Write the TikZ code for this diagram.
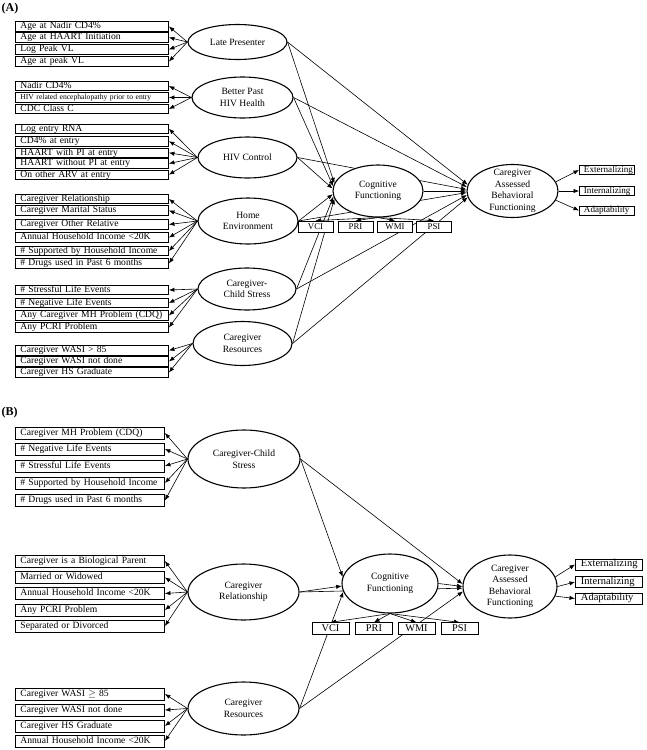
\documentclass[tikz,border=0pt]{standalone}
\usepackage{fontspec}
\setmainfont{Liberation Serif}
\usepackage{tikz}
\usetikzlibrary{shapes.geometric,arrows.meta,backgrounds}
\tikzset{
	every latent/.style={
		ellipse,
		draw,
		fill=white,
		line width=1.1pt,
		inner sep=0pt
	},
	item A/.style={
		rectangle, draw, fill=white, line width=0.9pt,
		anchor=west, align=left,
		inner xsep=5pt, inner ysep=0pt,
		text width=143pt, minimum height=9.5pt,
		text height=6.6pt, text depth=2pt
	},
	item B/.style={
		item A,
		inner xsep=5pt,
		text width=139pt, minimum height=12pt
	},
	subscale A/.style={
		rectangle, draw, fill=white, line width=0.8pt,
		inner sep=0pt, minimum width=35pt, minimum height=11pt,
		font=\fontsize{8.8}{10}\selectfont
	},
	subscale B/.style={
		subscale A,
		minimum width=37pt, minimum height=11.5pt,
		font=\fontsize{10.3}{12}\selectfont
	},
	outcome A/.style={
		item A,
		inner xsep=4.5pt, text width=46pt, minimum height=9pt,
		font=\fontsize{9.1}{10}\selectfont
	},
	outcome B/.style={
		item A,
		inner xsep=5.5pt, text width=56pt, minimum height=11pt,
		font=\fontsize{10.5}{12}\selectfont
	},
}

\begin{document}
\begin{tikzpicture}[x=1pt,y=-1pt,font=\fontsize{9.6}{11.5}\selectfont]
\tikzset{EdgeStyle/.style = {-{Latex[length=5.5pt,width=4.3pt]}, line width=0.6pt}}
\useasboundingbox (0,0) rectangle (646,750);

\node[anchor=west, inner sep=0pt, font=\fontsize{12}{14}\selectfont\bfseries] (panelA) at (1.5,9) {(A)};

\node[every latent, minimum width=99pt, minimum height=35pt, label={[align=center]center:Late Presenter}] (latePresenter) at (237.5,42) {};
	\node[item A] (ageNadir) at (15,26.5) {Age at Nadir CD4\%};
	\node[item A] (ageHaart) at (15,37.5) {Age at HAART Initiation};
	\node[item A] (logPeakVL) at (15,49.5) {Log Peak VL};
	\node[item A] (agePeakVL) at (15,61.5) {Age at peak VL};
\node[every latent, minimum width=101pt, minimum height=41pt, label={[align=center]center:Better Past\\HIV Health}] (betterPast) at (242.5,97.5) {};
	\node[item A] (nadirCD) at (15,86) {Nadir CD4\%};
	\node[item A, font=\fontsize{7.6}{9}\selectfont] (hivEnceph) at (15,97.5) {HIV related encephalopathy prior to entry};
	\node[item A] (cdcClassC) at (15,109) {CDC Class C};
\node[every latent, minimum width=99pt, minimum height=41pt, label={[align=center]center:HIV Control}] (hivControl) at (247.5,157.5) {};
	\node[item A] (logEntryRNA) at (15,128.7) {Log entry RNA};
	\node[item A] (cdEntry) at (15,141.2) {CD4\% at entry};
	\node[item A] (haartPI) at (15,152.8) {HAART with PI at entry};
	\node[item A] (haartNoPI) at (15,163.5) {HAART without PI at entry};
	\node[item A] (otherARV) at (15,174.7) {On other ARV at entry};
\node[every latent, minimum width=100pt, minimum height=46pt, label={[align=center]center:Home\\Environment}] (homeEnv) at (248,221) {};
	\node[item A] (cgRelation) at (15,199) {Caregiver Relationship};
	\node[item A] (cgMarital) at (15,210.5) {Caregiver Marital Status};
	\node[item A] (cgOtherRel) at (15,224.5) {Caregiver Other Relative};
	\node[item A] (incomeA) at (15,237.5) {Annual Household Income <20K};
	\node[item A] (supportedA) at (15,251) {\# Supported by Household Income};
	\node[item A] (drugsA) at (15,263.5) {\# Drugs used in Past 6 months};
\node[every latent, minimum width=98pt, minimum height=42pt, label={[align=center]center:Caregiver-\\Child Stress}] (cgStress) at (247,289) {};
	\node[item A] (stressfulA) at (15,290) {\# Stressful Life Events};
	\node[item A] (negativeA) at (15,303) {\# Negative Life Events};
	\node[item A] (mhProblemA) at (15,315.5) {Any Caregiver MH Problem (CDQ)};
	\node[item A] (pcriA) at (15,327.5) {Any PCRI Problem};
\node[every latent, minimum width=99pt, minimum height=44pt, label={[align=center]center:Caregiver\\Resources}] (cgResources) at (242.5,343.5) {};
	\node[item A] (wasiA) at (15,350.5) {Caregiver WASI > 85};
	\node[item A] (wasiNotDoneA) at (15,361.5) {Caregiver WASI not done};
	\node[item A] (hsGradA) at (15,372.5) {Caregiver HS Graduate};

\node[every latent, minimum width=90pt, minimum height=52pt, label={[align=center]center:Cognitive\\Functioning}] (cogFunc) at (378,191) {};
	\node[subscale A] (vci) at (315.5,226.5) {VCI};
	\node[subscale A] (pri) at (355.5,226.5) {PRI};
	\node[subscale A] (wmi) at (395,226.5) {WMI};
	\node[subscale A] (psi) at (434,226.5) {PSI};
\node[every latent, minimum width=91pt, minimum height=53pt, label={[align=center]center:Caregiver\\Assessed\\Behavioral\\Functioning}] (behavFunc) at (512.5,191) {};
	\node[outcome A] (externalA) at (579,170) {Externalizing};
	\node[outcome A] (internalA) at (579,191) {Internalizing};
	\node[outcome A] (adaptA) at (579,210.5) {Adaptability};

\node[anchor=west, inner sep=0pt, font=\fontsize{12}{14}\selectfont\bfseries] (panelB) at (1.5,412.5) {(B)};

\node[every latent, minimum width=112pt, minimum height=58pt, label={[align=center]center:Caregiver-Child\\Stress}] (cgStressB) at (244,459) {};
	\node[item B] (mhProblemB) at (15,433) {Caregiver MH Problem (CDQ)};
	\node[item B] (negativeB) at (15,449) {\# Negative Life Events};
	\node[item B] (stressfulB) at (15,466) {\# Stressful Life Events};
	\node[item B] (supportedB) at (15,483) {\# Supported by Household Income};
	\node[item B] (drugsB) at (15,500.5) {\# Drugs used in Past 6 months};
\node[every latent, minimum width=111pt, minimum height=56pt, label={[align=center]center:Caregiver\\Relationship}] (cgRelationB) at (243.5,592) {};
	\node[item B] (bioParent) at (15,561) {Caregiver is a Biological Parent};
	\node[item B] (marriedB) at (15,577.5) {Married or Widowed};
	\node[item B] (incomeB) at (15,593.5) {Annual Household Income <20K};
	\node[item B] (pcriB) at (15,610) {Any PCRI Problem};
	\node[item B] (separatedB) at (15,626) {Separated or Divorced};
\node[every latent, minimum width=111pt, minimum height=53pt, label={[align=center]center:Caregiver\\Resources}] (cgResourcesB) at (243.5,708.5) {};
	\node[item B] (wasiB) at (15,694) {Caregiver WASI $\geq$ 85};
	\node[item B] (wasiNotDoneB) at (15,710) {Caregiver WASI not done};
	\node[item B] (hsGradB) at (15,726) {Caregiver HS Graduate};
	\node[item B] (incomeResB) at (15,741) {Annual Household Income <20K};

\node[every latent, minimum width=96pt, minimum height=59pt, label={[align=center]center:Cognitive\\Functioning}] (cogFuncB) at (390,583.5) {};
	\node[subscale B] (vciB) at (330.5,628.5) {VCI};
	\node[subscale B] (priB) at (374,628.5) {PRI};
	\node[subscale B] (wmiB) at (416.5,628.5) {WMI};
	\node[subscale B] (psiB) at (459.5,628.5) {PSI};
\node[every latent, minimum width=94pt, minimum height=63pt, label={[align=center]center:Caregiver\\Assessed\\Behavioral\\Functioning}] (behavFuncB) at (510,586.5) {};
	\node[outcome B] (externalB) at (575,564.5) {Externalizing};
	\node[outcome B] (internalB) at (575,582) {Internalizing};
	\node[outcome B] (adaptB) at (575,598.5) {Adaptability};

\begin{pgfonlayer}{background}
\draw[EdgeStyle] (latePresenter.west) -- (ageNadir.east);
\draw[EdgeStyle] (latePresenter.west) -- (ageHaart.east);
\draw[EdgeStyle] (latePresenter.west) -- (logPeakVL.east);
\draw[EdgeStyle] (latePresenter.west) -- (agePeakVL.east);
\draw[EdgeStyle] (betterPast.west) -- (nadirCD.east);
\draw[EdgeStyle] (betterPast.west) -- (hivEnceph.east);
\draw[EdgeStyle] (betterPast.west) -- (cdcClassC.east);
\draw[EdgeStyle] (hivControl.west) -- (logEntryRNA.east);
\draw[EdgeStyle] (hivControl.west) -- (cdEntry.east);
\draw[EdgeStyle] (hivControl.west) -- (haartPI.east);
\draw[EdgeStyle] (hivControl.west) -- (haartNoPI.east);
\draw[EdgeStyle] (hivControl.west) -- (otherARV.east);
\draw[EdgeStyle] (homeEnv.west) -- (cgRelation.east);
\draw[EdgeStyle] (homeEnv.west) -- (cgMarital.east);
\draw[EdgeStyle] (homeEnv.west) -- (cgOtherRel.east);
\draw[EdgeStyle] (homeEnv.west) -- (incomeA.east);
\draw[EdgeStyle] (homeEnv.west) -- (supportedA.east);
\draw[EdgeStyle] (homeEnv.west) -- (drugsA.east);
\draw[EdgeStyle] (cgStress.west) -- (stressfulA.east);
\draw[EdgeStyle] (cgStress.west) -- (negativeA.east);
\draw[EdgeStyle] (cgStress.west) -- (mhProblemA.east);
\draw[EdgeStyle] (cgStress.west) -- (pcriA.east);
\draw[EdgeStyle] (cgResources.west) -- (wasiA.east);
\draw[EdgeStyle] (cgResources.west) -- (wasiNotDoneA.east);
\draw[EdgeStyle] (cgResources.west) -- (hsGradA.east);

\draw[EdgeStyle] (latePresenter.east) -- (cogFunc.170);
\draw[EdgeStyle] (betterPast.east) -- (cogFunc.174);
\draw[EdgeStyle] (hivControl.east) -- (cogFunc.177);
\draw[EdgeStyle] (homeEnv.east) -- (cogFunc.184);
\draw[EdgeStyle] (cgStress.east) -- (cogFunc.187);
\draw[EdgeStyle] (cgResources.east) -- (cogFunc.190);
\draw[EdgeStyle] (latePresenter.east) -- (behavFunc.172);
\draw[EdgeStyle] (betterPast.east) -- (behavFunc.175);
\draw[EdgeStyle] (hivControl.east) -- (behavFunc.178);
\draw[EdgeStyle] (homeEnv.east) -- (behavFunc.182);
\draw[EdgeStyle] (cgStress.east) -- (behavFunc.185);
\draw[EdgeStyle] (cgResources.east) -- (behavFunc.188);
\draw[EdgeStyle] (cogFunc.east) -- (behavFunc.180);
\draw[EdgeStyle] (cogFunc.south) -- (vci.north);
\draw[EdgeStyle] (cogFunc.south) -- (pri.north);
\draw[EdgeStyle] (cogFunc.south) -- (wmi.north);
\draw[EdgeStyle] (cogFunc.south) -- (psi.north);
\draw[EdgeStyle] (behavFunc.12) -- (externalA.west);
\draw[EdgeStyle] (behavFunc.east) -- (internalA.west);
\draw[EdgeStyle] (behavFunc.-12) -- (adaptA.west);

\draw[EdgeStyle] (cgStressB.west) -- (mhProblemB.east);
\draw[EdgeStyle] (cgStressB.west) -- (negativeB.east);
\draw[EdgeStyle] (cgStressB.west) -- (stressfulB.east);
\draw[EdgeStyle] (cgStressB.west) -- (supportedB.east);
\draw[EdgeStyle] (cgStressB.west) -- (drugsB.east);
\draw[EdgeStyle] (cgRelationB.west) -- (bioParent.east);
\draw[EdgeStyle] (cgRelationB.west) -- (marriedB.east);
\draw[EdgeStyle] (cgRelationB.west) -- (incomeB.east);
\draw[EdgeStyle] (cgRelationB.west) -- (pcriB.east);
\draw[EdgeStyle] (cgRelationB.west) -- (separatedB.east);
\draw[EdgeStyle] (cgResourcesB.west) -- (wasiB.east);
\draw[EdgeStyle] (cgResourcesB.west) -- (wasiNotDoneB.east);
\draw[EdgeStyle] (cgResourcesB.west) -- (hsGradB.east);
\draw[EdgeStyle] (cgResourcesB.west) -- (incomeResB.east);

\draw[EdgeStyle] (cgStressB.east) -- (cogFuncB.172);
\draw[EdgeStyle] (cgRelationB.east) -- (cogFuncB.183);
\draw[EdgeStyle] (cgResourcesB.east) -- (cogFuncB.190);
\draw[EdgeStyle] (cgStressB.east) -- (behavFuncB.177);
\draw[EdgeStyle] (cgRelationB.east) -- (behavFuncB.182);
\draw[EdgeStyle] (cgResourcesB.east) -- (behavFuncB.186);
\draw[EdgeStyle] (cogFuncB.east) -- (behavFuncB.180);
\draw[EdgeStyle] (cogFuncB.south) -- (vciB.north);
\draw[EdgeStyle] (cogFuncB.south) -- (priB.north);
\draw[EdgeStyle] (cogFuncB.south) -- (wmiB.north);
\draw[EdgeStyle] (cogFuncB.south) -- (psiB.north);
\draw[EdgeStyle] (behavFuncB.12) -- (externalB.west);
\draw[EdgeStyle] (behavFuncB.east) -- (internalB.west);
\draw[EdgeStyle] (behavFuncB.-12) -- (adaptB.west);
\end{pgfonlayer}
\end{tikzpicture}
\end{document}
